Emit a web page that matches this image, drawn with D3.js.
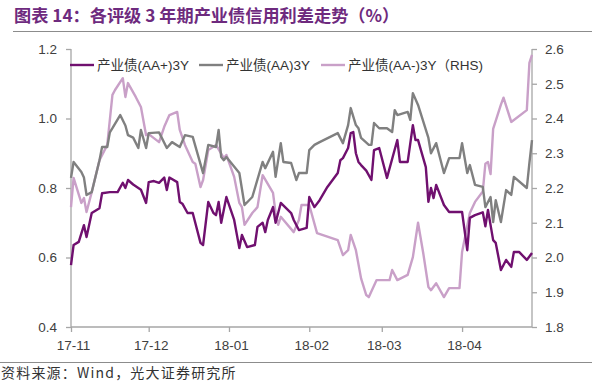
<!DOCTYPE html>
<html><head><meta charset="utf-8">
<script src="https://cdn.jsdelivr.net/npm/d3@7"></script>
<style>
html,body{margin:0;padding:0;background:#fff;}
svg{display:block;font-family:"Liberation Sans","Noto Sans CJK SC",sans-serif;}
</style></head>
<body><svg id="c" width="600" height="385"></svg>
<script>
const titleText = "图表 14：各评级 3 年期产业债信用利差走势（%）";
const sourceText = "资料来源：Wind，光大证券研究所";
const seriesNames = ["产业债(AA+)3Y", "产业债(AA)3Y", "产业债(AA-)3Y（RHS)"];
const leftTicks = [0.4, 0.6, 0.8, 1.0, 1.2];
const rightTicks = [1.8, 1.9, 2.0, 2.1, 2.2, 2.3, 2.4, 2.5, 2.6];
const monthTicks = ["2017-11-01","2017-12-01","2018-01-01","2018-02-01","2018-03-01","2018-04-01"];

const aaPlus = [
["2017-11-01",0.578],["2017-11-02",0.636],["2017-11-04",0.645],["2017-11-06",0.693],["2017-11-07",0.659],
["2017-11-09",0.728],["2017-11-12",0.742],["2017-11-13",0.785],["2017-11-16",0.788],["2017-11-19",0.788],
["2017-11-21",0.815],["2017-11-22",0.800],["2017-11-23",0.823],["2017-11-25",0.810],["2017-11-28",0.795],
["2017-11-30",0.757],["2017-12-01",0.817],["2017-12-03",0.820],["2017-12-05",0.815],["2017-12-07",0.830],
["2017-12-08",0.794],["2017-12-09",0.830],["2017-12-12",0.817],["2017-12-13",0.760],["2017-12-14",0.755],
["2017-12-16",0.728],["2017-12-18",0.728],["2017-12-21",0.642],["2017-12-22",0.636],["2017-12-24",0.760],
["2017-12-26",0.728],["2017-12-27",0.722],["2017-12-28",0.760],["2017-12-29",0.700],["2017-12-31",0.774],
["2018-01-03",0.708],["2018-01-05",0.627],["2018-01-06",0.665],["2018-01-08",0.630],["2018-01-11",0.636],
["2018-01-12",0.688],["2018-01-14",0.700],["2018-01-15",0.673],["2018-01-16",0.708],["2018-01-18",0.745],
["2018-01-19",0.700],["2018-01-21",0.757],["2018-01-25",0.728],["2018-01-26",0.708],["2018-01-28",0.679],
["2018-01-31",0.685],["2018-02-01",0.774],["2018-02-03",0.745],["2018-02-05",0.765],["2018-02-08",0.803],
["2018-02-12",0.843],["2018-02-13",0.880],["2018-02-14",0.886],["2018-02-16",0.915],["2018-02-17",0.958],
["2018-02-18",0.961],["2018-02-19",0.900],["2018-02-20",0.875],["2018-02-21",0.866],["2018-02-23",0.850],
["2018-02-25",0.823],["2018-02-26",0.909],["2018-02-28",0.915],["2018-03-03",0.829],["2018-03-07",0.938],
["2018-03-08",0.875],["2018-03-11",0.875],["2018-03-13",0.981],["2018-03-14",0.938],["2018-03-15",0.938],
["2018-03-18",0.860],["2018-03-19",0.760],["2018-03-20",0.800],["2018-03-21",0.771],["2018-03-22",0.809],
["2018-03-25",0.751],["2018-03-27",0.731],["2018-04-01",0.731],["2018-04-03",0.621],["2018-04-04",0.714],
["2018-04-06",0.722],["2018-04-09",0.730],["2018-04-10",0.690],["2018-04-11",0.737],["2018-04-13",0.650],
["2018-04-14",0.642],["2018-04-16",0.564],["2018-04-18",0.593],["2018-04-20",0.573],["2018-04-21",0.616],
["2018-04-23",0.616],["2018-04-26",0.593],["2018-04-28",0.613]
];

const aa = [
["2017-11-01",0.829],["2017-11-02",0.875],["2017-11-05",0.846],["2017-11-06",0.830],["2017-11-07",0.780],
["2017-11-09",0.788],["2017-11-12",0.880],["2017-11-13",0.918],["2017-11-15",0.918],["2017-11-16",0.960],
["2017-11-17",0.972],["2017-11-20",1.010],["2017-11-22",0.980],["2017-11-23",0.952],["2017-11-25",0.945],
["2017-11-27",0.915],["2017-11-28",0.967],["2017-11-30",0.915],["2017-12-01",0.958],["2017-12-05",0.960],
["2017-12-08",0.915],["2017-12-10",0.932],["2017-12-13",0.918],["2017-12-15",0.952],["2017-12-18",0.947],
["2017-12-22",0.843],["2017-12-24",0.924],["2017-12-27",0.918],["2017-12-28",0.967],["2017-12-29",0.889],
["2017-12-30",0.880],["2017-12-31",0.889],["2018-01-05",0.843],["2018-01-07",0.751],["2018-01-10",0.774],
["2018-01-14",0.875],["2018-01-15",0.857],["2018-01-18",0.904],["2018-01-19",0.832],["2018-01-21",0.929],
["2018-01-22",0.875],["2018-01-25",0.872],["2018-01-27",0.823],["2018-01-28",0.843],["2018-01-31",0.843],
["2018-02-01",0.909],["2018-02-03",0.924],["2018-02-05",0.932],["2018-02-12",0.958],["2018-02-14",0.929],
["2018-02-16",0.981],["2018-02-17",1.030],["2018-02-19",0.981],["2018-02-20",0.972],["2018-02-21",0.944],
["2018-02-24",0.924],["2018-02-25",0.924],["2018-02-26",0.987],["2018-02-28",0.972],["2018-03-03",0.972],
["2018-03-05",0.961],["2018-03-06",1.024],["2018-03-07",1.010],["2018-03-11",1.019],["2018-03-12",0.996],
["2018-03-13",1.073],["2018-03-15",1.039],["2018-03-19",0.944],["2018-03-20",0.900],["2018-03-22",0.929],
["2018-03-25",0.843],["2018-03-27",0.886],["2018-03-31",0.886],["2018-04-01",0.929],["2018-04-03",0.843],
["2018-04-04",0.866],["2018-04-06",0.809],["2018-04-09",0.803],["2018-04-10",0.745],["2018-04-12",0.774],
["2018-04-13",0.702],["2018-04-14",0.765],["2018-04-16",0.702],["2018-04-18",0.794],["2018-04-20",0.780],
["2018-04-21",0.832],["2018-04-26",0.800],["2018-04-27",0.872],["2018-04-28",0.938]
];

const aaMinus = [
["2017-11-01",2.145],["2017-11-02",2.229],["2017-11-05",2.157],["2017-11-06",2.171],["2017-11-07",2.131],
["2017-11-09",2.188],["2017-11-12",2.280],["2017-11-15",2.324],["2017-11-17",2.468],["2017-11-18",2.482],
["2017-11-21",2.516],["2017-11-22",2.462],["2017-11-23",2.502],["2017-11-26",2.462],["2017-11-28",2.433],
["2017-11-30",2.352],["2017-12-01",2.355],["2017-12-05",2.332],["2017-12-07",2.376],["2017-12-09",2.410],
["2017-12-12",2.419],["2017-12-13",2.367],["2017-12-15",2.324],["2017-12-18",2.275],["2017-12-19",2.270],
["2017-12-21",2.203],["2017-12-22",2.223],["2017-12-24",2.309],["2017-12-27",2.324],["2017-12-30",2.286],
["2017-12-31",2.295],["2018-01-03",2.232],["2018-01-05",2.157],["2018-01-06",2.145],["2018-01-07",2.094],
["2018-01-10",2.128],["2018-01-12",2.145],["2018-01-14",2.237],["2018-01-18",2.186],["2018-01-19",2.128],
["2018-01-20",2.094],["2018-01-21",2.117],["2018-01-26",2.073],["2018-01-28",2.108],["2018-01-29",2.151],
["2018-02-01",2.151],["2018-02-04",2.070],["2018-02-12",2.050],["2018-02-14",2.007],["2018-02-16",2.021],
["2018-02-17",2.065],["2018-02-19",2.021],["2018-02-21",1.940],["2018-02-23",1.892],["2018-02-24",1.886],
["2018-02-27",1.935],["2018-03-04",1.935],["2018-03-05",1.964],["2018-03-07",1.935],["2018-03-11",1.950],
["2018-03-13",2.001],["2018-03-15",2.100],["2018-03-17",2.013],["2018-03-19",1.915],["2018-03-20",1.906],
["2018-03-22",1.926],["2018-03-25",1.886],["2018-03-27",1.912],["2018-03-31",1.912],["2018-04-01",2.016],
["2018-04-04",2.128],["2018-04-06",2.160],["2018-04-09",2.190],["2018-04-10",2.270],["2018-04-11",2.275],
["2018-04-12",2.240],["2018-04-13",2.370],["2018-04-16",2.440],["2018-04-17",2.460],["2018-04-20",2.390],
["2018-04-26",2.424],["2018-04-27",2.560],["2018-04-28",2.583]
];

const colors = ["#70106F", "#808080", "#C9A0C8"];
const purpleTitle = "#6E2A7E";
const parse = d3.timeParse("%Y-%m-%d");
const svg = d3.select("#c");

const x = d3.scaleTime().domain([parse("2017-11-01"), parse("2018-04-28")]).range([71, 532]);
const yL = d3.scaleLinear().domain([0.4, 1.2]).range([327, 49]);
const yR = d3.scaleLinear().domain([1.8, 2.6]).range([327, 49]);

// title
svg.append("text").attr("x", 14).attr("y", 22).attr("fill", purpleTitle)
  .attr("font-size", 17.2).attr("font-weight", "bold")
  .attr("font-family", "'Noto Sans CJK SC','Liberation Sans',sans-serif").text(titleText);
svg.append("line").attr("x1", 13).attr("x2", 592).attr("y1", 31.5).attr("y2", 31.5)
  .attr("stroke", "#8c8c8c").attr("stroke-width", 1.2);

// axes
const axisColor = "#a6a6a6";
const gL = svg.append("g").attr("transform", "translate(71,0)")
  .call(d3.axisLeft(yL).tickValues(leftTicks).tickFormat(d3.format(".1f")).tickSize(5).tickPadding(9));
const gR = svg.append("g").attr("transform", "translate(532,0)")
  .call(d3.axisRight(yR).tickValues(rightTicks).tickFormat(d3.format(".1f")).tickSize(5).tickPadding(8));
const gB = svg.append("g").attr("transform", "translate(0,327)")
  .call(d3.axisBottom(x).tickValues(monthTicks.map(parse)).tickFormat(d3.timeFormat("%y-%m")).tickSize(5).tickPadding(8));
[gL, gR, gB].forEach(g => {
  g.select(".domain").attr("stroke", axisColor).attr("stroke-width", 1.3);
  g.selectAll(".tick line").attr("stroke", axisColor).attr("stroke-width", 1.3);
  g.selectAll(".tick text").attr("fill", "#404040").attr("font-size", 13.5)
    .attr("font-family", "'Liberation Sans',sans-serif");
});
gL.select(".domain").attr("d", "M0,49V327");
gR.select(".domain").attr("d", "M0,49V327");
gB.select(".domain").attr("d", "M71,0H532");
gB.selectAll(".tick text").attr("dx", 2);

// lines
const lineL = d3.line().x(d => x(parse(d[0]))).y(d => yL(d[1]));
const lineR = d3.line().x(d => x(parse(d[0]))).y(d => yR(d[1]));
const plot = svg.append("g").attr("fill", "none").attr("stroke-linejoin", "round").attr("stroke-width", 2.4);
plot.append("path").datum(aaMinus).attr("d", lineR).attr("stroke", colors[2]);
plot.append("path").datum(aa).attr("d", lineL).attr("stroke", colors[1]);
plot.append("path").datum(aaPlus).attr("d", lineL).attr("stroke", colors[0]);

// legend
const legendX = [70, 199, 321];
const lg = svg.append("g");
seriesNames.forEach((n, i) => {
  lg.append("line").attr("x1", legendX[i]).attr("x2", legendX[i] + 24).attr("y1", 65).attr("y2", 65)
    .attr("stroke", colors[i]).attr("stroke-width", 2.4);
  lg.append("text").attr("x", legendX[i] + 27).attr("y", 70).attr("fill", "#333")
    .attr("font-size", 13.5).attr("font-family", "'Liberation Sans','Noto Sans CJK SC',sans-serif").text(n);
});

// footer
svg.append("line").attr("x1", 0).attr("x2", 592).attr("y1", 362.5).attr("y2", 362.5)
  .attr("stroke", "#8c8c8c").attr("stroke-width", 1.2);
svg.append("text").attr("x", 1).attr("y", 378).attr("fill", "#333").attr("font-size", 14)
  .attr("letter-spacing", 1.2)
  .attr("font-family", "'Noto Sans CJK SC','Liberation Sans',sans-serif").text(sourceText);
</script></body></html>
